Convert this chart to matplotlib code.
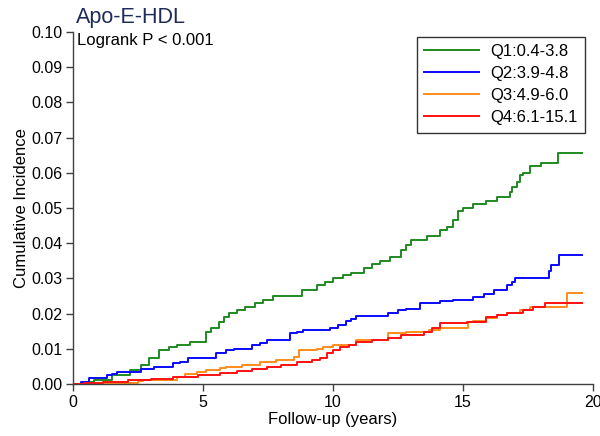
import matplotlib
matplotlib.use('Agg')
from matplotlib import pyplot as plt

plt.rcParams['font.family'] = ['Liberation Sans', 'DejaVu Sans']

# step points (time in years, cumulative incidence)
q1_t = [0, 0.4, 0.8, 1.5, 2.2, 2.6, 2.9, 3.3, 3.7, 4.0, 4.5, 5.1, 5.3, 5.6, 5.8, 6.0, 6.3, 6.6, 7.0, 7.3, 7.7,
        8.8, 9.4, 9.7, 10.0, 10.4, 10.7, 11.2, 11.5, 11.8, 12.2, 12.6, 12.8, 13.0, 13.6, 14.1, 14.4, 14.6, 14.8,
        15.0, 15.4, 15.9, 16.3, 16.8, 16.9, 17.1, 17.2, 17.3, 17.6, 18.0, 18.65, 19.6]
q1_v = [0, 0.0005, 0.0011, 0.0025, 0.004, 0.0055, 0.0074, 0.0097, 0.0105, 0.011, 0.012, 0.0148, 0.016, 0.0175,
        0.019, 0.0202, 0.021, 0.022, 0.023, 0.024, 0.025, 0.0267, 0.028, 0.029, 0.03, 0.031, 0.0315, 0.033, 0.034,
        0.035, 0.036, 0.038, 0.0395, 0.041, 0.042, 0.0437, 0.0446, 0.0466, 0.049, 0.05, 0.051, 0.052, 0.053,
        0.0546, 0.056, 0.0575, 0.0594, 0.060, 0.062, 0.0628, 0.0656, 0.0656]
q2_t = [0, 0.3, 0.6, 1.3, 1.5, 1.7, 2.6, 3.1, 3.85, 4.1, 4.4, 5.5, 5.9, 6.2, 6.9, 7.2, 7.45, 8.35, 8.6, 8.85,
        9.9, 10.2, 10.5, 10.7, 10.9, 12.1, 12.5, 12.8, 13.35, 14.1, 14.6, 15.4, 15.8, 16.2, 16.7, 16.9, 17.0,
        18.3, 18.4, 18.7, 19.6]
q2_v = [0, 0.0005, 0.0017, 0.0026, 0.003, 0.0034, 0.0044, 0.0048, 0.006, 0.0064, 0.0074, 0.0088, 0.0097, 0.01,
        0.011, 0.0116, 0.0125, 0.0145, 0.0148, 0.0153, 0.016, 0.0167, 0.018, 0.0186, 0.0193, 0.0202, 0.021,
        0.0213, 0.023, 0.0236, 0.024, 0.0248, 0.0257, 0.0267, 0.028, 0.029, 0.030, 0.032, 0.0338, 0.0366, 0.0366]
q3_t = [0, 1.05, 2.5, 2.7, 4.0, 4.3, 4.75, 5.1, 5.65, 5.9, 6.5, 7.2, 7.8, 8.5, 8.7, 9.4, 9.6, 10.0, 10.9, 12.1,
        12.8, 13.7, 14.1, 15.2, 15.4, 15.9, 16.3, 16.7, 17.2, 17.6, 19.0, 19.6]
q3_v = [0, 0.0003, 0.001, 0.0013, 0.002, 0.0028, 0.0034, 0.004, 0.0045, 0.0048, 0.0055, 0.0063, 0.0068, 0.0077,
        0.0097, 0.01, 0.0105, 0.011, 0.0125, 0.0145, 0.0149, 0.0153, 0.0159, 0.0177, 0.018, 0.0188, 0.0195,
        0.0202, 0.021, 0.022, 0.0258, 0.0258]
q4_t = [0, 0.4, 1.15, 2.1, 3.0, 3.85, 4.8, 5.65, 6.3, 6.9, 7.45, 8.0, 8.6, 9.2, 9.5, 9.77, 10.0, 10.27, 10.6,
        10.9, 11.5, 12.1, 12.6, 13.5, 13.8, 14.1, 15.15, 15.9, 16.3, 16.7, 17.3, 17.7, 18.15, 19.6]
q4_v = [0, 0.0002, 0.0006, 0.0011, 0.0014, 0.002, 0.0026, 0.0031, 0.0037, 0.0042, 0.0048, 0.0055, 0.0062,
        0.0068, 0.0074, 0.0088, 0.0097, 0.0105, 0.011, 0.012, 0.0125, 0.013, 0.014, 0.0148, 0.016, 0.0173,
        0.0177, 0.019, 0.0196, 0.0202, 0.021, 0.022, 0.023, 0.023]

labels = ['Q1:0.4-3.8', 'Q2:3.9-4.8', 'Q3:4.9-6.0', 'Q4:6.1-15.1']
colors = ['#1f8a1f', '#0a0aff', '#ff8c1a', '#ff1010']
x_ticks = [0, 5, 10, 15, 20]
y_ticks = [0.00, 0.01, 0.02, 0.03, 0.04, 0.05, 0.06, 0.07, 0.08, 0.09, 0.10]

fig = plt.figure(figsize=(6, 4.36), dpi=100)
ax = fig.add_axes([0.122, 0.119, 0.866, 0.808])

for t, v, lab, c in zip([q1_t, q2_t, q3_t, q4_t], [q1_v, q2_v, q3_v, q4_v], labels, colors):
    ax.step(t, v, where='post', color=c, lw=1.4, label=lab)

ax.set_xlim(0, 20)
ax.set_ylim(0, 0.10)
ax.set_xticks(x_ticks)
ax.set_yticks(y_ticks)
ax.set_yticklabels(['%.2f' % y for y in y_ticks])
for s in ['top', 'right']:
    ax.spines[s].set_visible(False)
for s in ['left', 'bottom']:
    ax.spines[s].set_color('#404040')
    ax.spines[s].set_linewidth(1.0)
ax.tick_params(direction='out', length=5, width=1, colors='#404040', labelcolor='black', labelsize=11.5, pad=2.5)

ax.set_xlabel('Follow-up (years)', fontsize=12, labelpad=2)
ax.set_ylabel('Cumulative Incidence', fontsize=12, labelpad=2)

fig.text(0.127, 0.947, 'Apo-E-HDL', fontsize=15.5, color='#1c2b5a', va='baseline', ha='left')
ax.text(0.008, 0.963, 'Logrank P < 0.001', transform=ax.transAxes, fontsize=12, va='baseline', ha='left')

leg = ax.legend(loc='upper right', bbox_to_anchor=(0.985, 0.986), borderaxespad=0, fontsize=12,
                handlelength=3.3, handletextpad=0.65, fancybox=False, framealpha=1, edgecolor='#333333',
                borderpad=0.45, labelspacing=0.42)
leg.get_frame().set_linewidth(1.0)

fig.savefig('out.png', dpi=100)
